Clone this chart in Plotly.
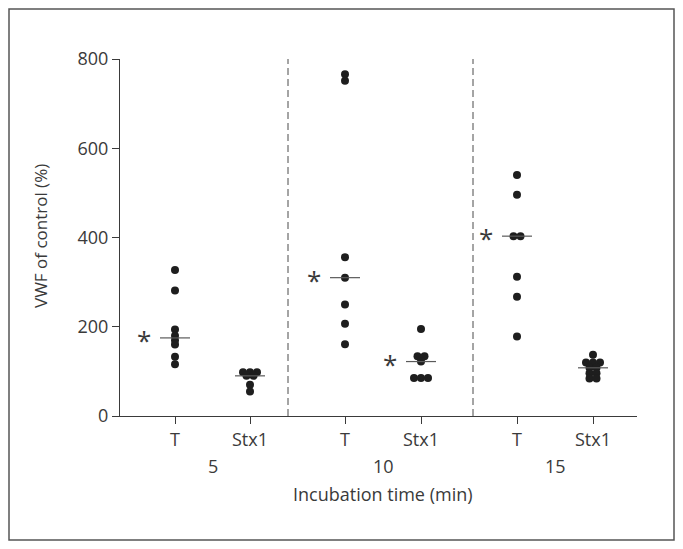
import numpy as np
import plotly.graph_objects as go

# ---- data ----
times = ["5", "10", "15"]
treatments = ["T", "Stx1"]
t_5 = [327, 281, 194, 180, 170, 160, 133, 116]
stx1_5 = [98, 98, 98, 90, 90, 70, 55]
t_10 = [766, 751, 356, 310, 250, 207, 161]
stx1_10 = [195, 134, 134, 122, 85, 85, 85]
t_15 = [540, 496, 403, 403, 312, 267, 178]
stx1_15 = [137, 120, 120, 120, 108, 108, 96, 96, 84, 84]
significant = [True, False, True, True, True, False]
y_ticks = [0, 200, 400, 600, 800]

groups = [t_5, stx1_5, t_10, stx1_10, t_15, stx1_15]

# ---- layout geometry ----
# page is rendered with an 8px body margin; page px = figure px + 8
OFF = 8
W, H = 683 - 2 * OFF, 549 - 2 * OFF
PL, PR, PT, PB = 120, 637, 59, 416          # plot area in page pixels
L, T = PL - OFF, PT - OFF
R, B = W - (PR - OFF), H - (PB - OFF)
plot_w = PR - PL
plot_h = PB - PT
positions = [55, 130, 225, 301, 397, 473]    # x axis units = pixels from axis
separators = [168, 353]
dot_step = 7.0


def px_x(px):
    return (px - PL) / plot_w


def px_y(py):
    return (PB - py) / plot_h


def swarm(vals, center):
    counts = {}
    for v in vals:
        counts[v] = counts.get(v, 0) + 1
    seen = {}
    xs = []
    for v in vals:
        n = counts[v]
        i = seen.get(v, 0)
        seen[v] = i + 1
        xs.append(center + (i - (n - 1) / 2.0) * dot_step)
    return xs


fig = go.Figure()
ink = "#1e1e1e"
axis_col = "#3a3a3a"
font_family = "Open Sans, Noto Sans, sans-serif"
fs = 18

for vals, pos in zip(groups, positions):
    fig.add_trace(go.Scatter(
        x=swarm(vals, pos), y=vals, mode="markers",
        marker=dict(size=8, color=ink, line=dict(width=0)),
        showlegend=False, hoverinfo="y", cliponaxis=False))

for vals, pos, sig in zip(groups, positions, significant):
    med = float(np.median(vals))
    fig.add_trace(go.Scatter(
        x=[pos - 15, pos + 15], y=[med, med], mode="lines",
        line=dict(color="#5a5a5a", width=1.2),
        showlegend=False, hoverinfo="skip"))
    if sig:
        fig.add_annotation(x=pos - 31, y=med, text="*", showarrow=False,
                           xanchor="center", yanchor="middle", yshift=-2,
                           font=dict(size=26, color=axis_col))

for sx in separators:
    fig.add_shape(type="line", x0=sx, x1=sx, y0=0, y1=800, xref="x", yref="y",
                  line=dict(color="#4a4a4a", width=1, dash="7px,4px"))

for i, tm in enumerate(times):
    cx = (positions[2 * i] + positions[2 * i + 1]) / 2.0
    fig.add_annotation(x=cx, xref="x", y=px_y(466), yref="paper",
                       text=tm, showarrow=False, xanchor="center", yanchor="middle",
                       font=dict(size=fs, color=axis_col))

fig.add_annotation(x=263, xref="x", y=px_y(494), yref="paper",
                   text="Incubation time (min)", showarrow=False,
                   xanchor="center", yanchor="middle",
                   font=dict(size=fs, color=axis_col))
fig.add_annotation(x=px_x(40), xref="paper", y=px_y(236), yref="paper",
                   text="VWF of control (%)", showarrow=False, textangle=-90,
                   xanchor="center", yanchor="middle",
                   font=dict(size=17, color=axis_col))

# outer frame (at the figure edges)
fig.add_shape(type="rect", xref="paper", yref="paper",
              x0=px_x(OFF + 1), x1=px_x(683 - OFF - 1),
              y0=px_y(549 - OFF - 1), y1=px_y(OFF + 1),
              line=dict(color="#555555", width=1.5))

fig.update_layout(
    width=W, height=H,
    margin=dict(l=L, r=R, t=T, b=B, pad=0),
    paper_bgcolor="white", plot_bgcolor="white",
    font=dict(family=font_family, size=fs, color=axis_col),
    xaxis=dict(range=[0, plot_w], showgrid=False, zeroline=False,
               showline=True, linecolor=axis_col, linewidth=1,
               tickmode="array", tickvals=positions,
               ticktext=[tr for _ in times for tr in treatments],
               ticks="outside", ticklen=7, tickcolor=axis_col,
               tickfont=dict(size=fs, color=axis_col), fixedrange=True),
    yaxis=dict(range=[0, 800], showgrid=False, zeroline=False,
               showline=True, linecolor=axis_col, linewidth=1,
               tickmode="array", tickvals=y_ticks,
               ticks="outside", ticklen=7, tickcolor=axis_col,
               tickfont=dict(size=fs, color=axis_col), fixedrange=True),
)

fig.write_html("out.html")
